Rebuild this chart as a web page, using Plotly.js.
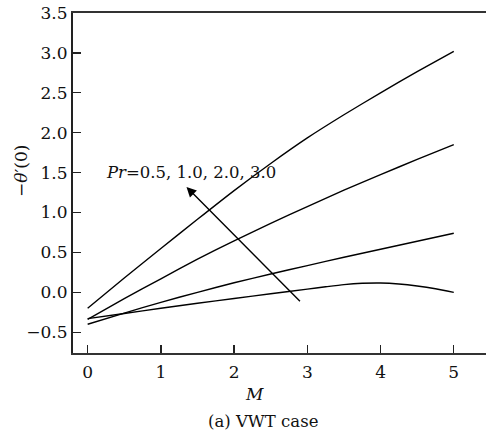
<!DOCTYPE html>
<html>
<head>
<meta charset="utf-8">
<script src="https://cdn.plot.ly/plotly-3.0.1.min.js"></script>
<style>html,body{margin:0;padding:0;background:#fff;}#chart{width:486px;height:434px;}</style>
</head>
<body>
<div id="chart"></div>
<script>
// M values
var M = [0, 0.5, 1, 1.5, 2, 2.5, 3, 3.5, 4, 4.5, 5];
// -theta'(0) for Pr = 0.5, 1.0, 2.0
var pr05 = [-0.20, 0.18, 0.55, 0.915, 1.275, 1.615, 1.935, 2.225, 2.50, 2.765, 3.02];
var pr10 = [-0.34, -0.08, 0.17, 0.415, 0.645, 0.865, 1.075, 1.28, 1.475, 1.665, 1.85];
var pr20 = [-0.40, -0.26, -0.125, 0.00, 0.12, 0.23, 0.335, 0.44, 0.54, 0.64, 0.74];
// Pr = 3.0 (finer sampling around the maximum)
var M30 = [0, 0.5, 1, 1.5, 2, 2.5, 3, 3.25, 3.5, 3.75, 4, 4.25, 4.5, 4.75, 5];
var pr30 = [-0.33, -0.265, -0.20, -0.137, -0.077, -0.018, 0.04, 0.07, 0.097, 0.113, 0.117, 0.105, 0.08, 0.045, 0.00];
var xTicks = [0, 1, 2, 3, 4, 5];
var yTicks = [-0.5, 0, 0.5, 1.0, 1.5, 2.0, 2.5, 3.0, 3.5];
var arrowHead = [1.35, 1.32];
var arrowTail = [2.92, -0.13];

var FONT = '"DejaVu Serif", "Liberation Serif", serif';
var lineStyle = {color: '#000', width: 1.4, shape: 'spline', smoothing: 0.6};
var traces = [
  {x: M, y: pr05, mode: 'lines', line: lineStyle, hoverinfo: 'skip'},
  {x: M, y: pr10, mode: 'lines', line: lineStyle, hoverinfo: 'skip'},
  {x: M, y: pr20, mode: 'lines', line: lineStyle, hoverinfo: 'skip'},
  {x: M30, y: pr30, mode: 'lines', line: lineStyle, hoverinfo: 'skip'}
];

var layout = {
  width: 486, height: 434,
  margin: {l: 73, r: 0, t: 13, b: 81},
  paper_bgcolor: '#fff', plot_bgcolor: '#fff',
  showlegend: false,
  font: {family: FONT, size: 17, color: '#111'},
  xaxis: {
    range: [-0.2, 5.44], tickvals: xTicks, ticks: 'inside', ticklen: 8, tickwidth: 1.3, tickcolor: '#222',
    showline: true, linecolor: '#333', linewidth: 2, mirror: true, ticklabelstandoff: 3,
    showgrid: false, zeroline: false, tickfont: {family: FONT, size: 17, color: '#111'}
  },
  yaxis: {
    range: [-0.76, 3.5], tickvals: yTicks, tickformat: '.1f', ticks: 'inside', ticklen: 8, tickwidth: 1.3, tickcolor: '#222',
    showline: true, linecolor: '#222', linewidth: 2, mirror: false,
    showgrid: false, zeroline: false, tickfont: {family: FONT, size: 17, color: '#111'}
  },
  annotations: [
    {x: arrowHead[0], y: arrowHead[1], ax: arrowTail[0], ay: arrowTail[1], xref: 'x', yref: 'y', axref: 'x', ayref: 'y',
     text: '', showarrow: true, arrowhead: 2, arrowsize: 1.4, arrowwidth: 1.4, arrowcolor: '#000'},
    {x: 0.23, y: 1.5, xref: 'x', yref: 'y', xanchor: 'left', yanchor: 'middle', showarrow: false,
     text: '<i>Pr</i>=0.5, 1.0, 2.0, 3.0', font: {family: FONT, size: 16.5, color: '#111'}},
    {x: 2.28, y: -0.76, xref: 'x', yref: 'y', yshift: -41, xanchor: 'center', yanchor: 'middle', showarrow: false,
     text: '<i>M</i>', font: {family: FONT, size: 17, color: '#111'}},
    {x: 2.39, y: -0.76, xref: 'x', yref: 'y', yshift: -68, xanchor: 'center', yanchor: 'middle', showarrow: false,
     text: '(a) VWT case', font: {family: FONT, size: 16.5, color: '#111'}},
    {x: 0, y: 1.52, xref: 'paper', yref: 'y', xshift: -52, xanchor: 'center', yanchor: 'middle', showarrow: false, textangle: -90,
     text: '\u2212<i>\u03b8</i>\u2032(0)', font: {family: FONT, size: 17, color: '#111'}}
  ]
};
Plotly.newPlot('chart', traces, layout, {staticPlot: true, displayModeBar: false});
</script>
</body>
</html>
